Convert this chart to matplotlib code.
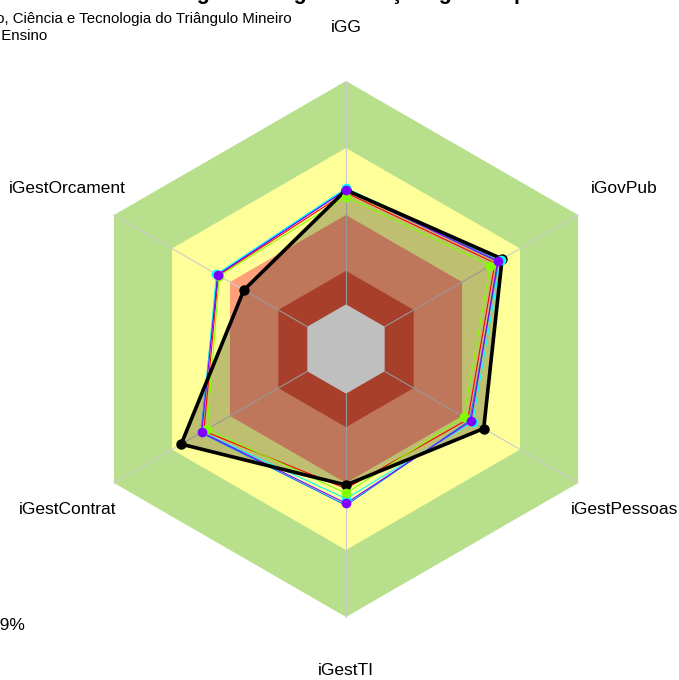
import numpy as np
import matplotlib
matplotlib.use("Agg")
import matplotlib.pyplot as plt

plt.rcParams['font.family'] = ['Liberation Sans', 'DejaVu Sans']

# eixos do radar (sentido anti-horario a partir do topo)
eixos = ['iGG', 'iGestOrcament', 'iGestContrat', 'iGestTI', 'iGestPessoas', 'iGovPub']

# faixas de capacidade (limites superiores)
faixas = [0.15, 0.40, 0.70, 1.00]
cores_faixas = ['#E0553A', '#FFA07A', '#FFFF99', '#B8E08C']

# organizacao avaliada
org = [0.512, 0.328, 0.652, 0.409, 0.512, 0.607]

# referencias
vermelho = [0.500, 0.460, 0.535, 0.425, 0.430, 0.570]
azul = [0.515, 0.465, 0.550, 0.500, 0.440, 0.590]
ciano = [0.520, 0.470, 0.545, 0.470, 0.455, 0.601]
verde = [0.482, 0.455, 0.518, 0.446, 0.409, 0.546]
roxo = [0.512, 0.463, 0.546, 0.491, 0.446, 0.584]

W, H = 679, 680
cx, cy, R = 346, 349, 268
seg = 5
centro = 1.0 / (seg + 1)

ang = np.deg2rad(90 + 60 * np.arange(len(eixos)))


def raio(v):
    return centro + (1 - centro) * np.asarray(v, dtype=float)


def poli(v):
    r = raio(v) * np.ones(len(ang))
    x = r * np.cos(ang)
    y = r * np.sin(ang)
    return np.append(x, x[0]), np.append(y, y[0])


def px(x, y):
    # pixel -> coordenada de dados
    return (x - cx) / R, (cy - y) / R


fig = plt.figure(figsize=(W / 100, H / 100), dpi=100)
ax = fig.add_axes([0, 0, 1, 1])
ax.set_xlim(-cx / R, (W - cx) / R)
ax.set_ylim(-(H - cy) / R, cy / R)
ax.axis('off')

# faixas, da maior para a menor
for lim, cor in zip(faixas[::-1], cores_faixas[::-1]):
    ax.fill(*poli(lim), color=cor, lw=0, zorder=1)
ax.fill(*poli(0), color='white', lw=0, zorder=1)

# linhas dos eixos
for a in ang:
    ax.plot([centro * np.cos(a), np.cos(a)], [centro * np.sin(a), np.sin(a)],
            color='#CCCCCC', lw=0.8, zorder=2)

# organizacao: preenchimento semitransparente
ax.fill(*poli(org), color='black', alpha=0.25, lw=0, zorder=3)

series = [(vermelho, '#FF0000'), (azul, '#0080FF'), (ciano, '#00FFFF'),
          (verde, '#80FF00'), (roxo, '#8000FF')]
for vals, cor in series:
    ax.plot(*poli(vals), color=cor, lw=0.8, zorder=4)
ax.plot(*poli(org), color='black', lw=2.6, zorder=5)

# marcadores
x, y = poli(org)
ax.plot(x[:-1], y[:-1], 'o', color='black', ms=6.5, zorder=6)
for vals, cor in [(ciano, '#00FFFF'), (verde, '#80FF00'), (roxo, '#8000FF')]:
    x, y = poli(vals)
    ax.plot(x[:-1], y[:-1], 'o', color=cor, ms=7, mec='none', zorder=7)

# rotulos dos eixos
for nome, a in zip(eixos, ang):
    ax.text(1.2 * np.cos(a), 1.2 * np.sin(a), nome, ha='center', va='center',
            fontsize=12.5)

# textos (parcialmente fora da figura)
ax.text(*px(346, -1), 'Índice integrado de governança e gestão públicas',
        ha='center', va='baseline', fontsize=15.5, fontweight='bold')
ax.text(*px(292, 19), 'Instituto Federal de Educação, Ciência e Tecnologia do Triângulo Mineiro',
        ha='right', va='center', fontsize=10.8)
ax.text(*px(47, 36), 'Segmento:    Ensino', ha='right', va='center', fontsize=10.8)
ax.text(*px(25, 626), 'Média: 49%', ha='right', va='center', fontsize=12.5)

fig.savefig('out.png', dpi=100)
